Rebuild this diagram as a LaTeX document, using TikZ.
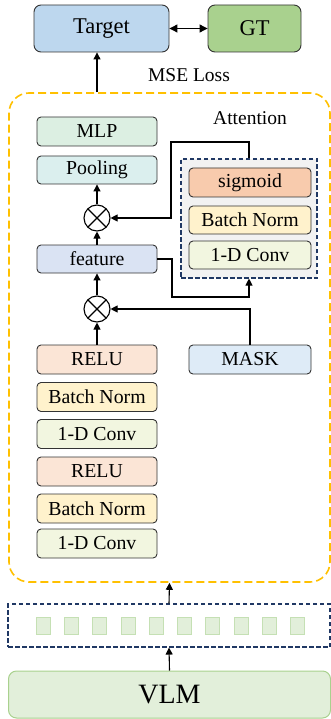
\documentclass[tikz,border=0pt]{standalone}
\usepackage{fontspec}
\setmainfont{Liberation Serif}
\usetikzlibrary{arrows.meta}
\definecolor{tgt}{HTML}{BDD7EE}
\definecolor{gtc}{HTML}{A9D18E}
\definecolor{mlpc}{HTML}{DCEFE2}
\definecolor{poolc}{HTML}{DBEFEE}
\definecolor{featc}{HTML}{DAE3F3}
\definecolor{sigc}{HTML}{F8CBAD}
\definecolor{bnc}{HTML}{FFF2CC}
\definecolor{convc}{HTML}{F2F6E0}
\definecolor{reluc}{HTML}{FBE5D6}
\definecolor{maskc}{HTML}{DEEBF7}
\definecolor{navy}{HTML}{203864}
\definecolor{orng}{HTML}{FFC000}
\definecolor{vlmc}{HTML}{E2EFDA}
\definecolor{vlmd}{HTML}{A9D18E}
\definecolor{tokd}{HTML}{C5E0B4}
\begin{document}
\begin{tikzpicture}[x=1pt,y=-1pt,
  blk/.style={draw=black!80, line width=0.9pt, rounded corners=4pt, inner sep=0pt,
    minimum width=120pt, minimum height=29pt, font=\fontsize{19.8}{21}\selectfont},
  big/.style={draw=black!80, line width=0.9pt, rounded corners=7pt, inner sep=0pt,
    minimum height=47pt, font=\fontsize{22.5}{24}\selectfont},
  conn/.style={line width=1.1pt, -{Triangle[length=7pt,width=7pt]}},
  otimesnode/.style={circle, draw, line width=1.1pt, minimum size=26pt, inner sep=0pt,
    path picture={\draw[line width=1.1pt] (path picture bounding box.north west) -- (path picture bounding box.south east)
      (path picture bounding box.north east) -- (path picture bounding box.south west);}},
  tok/.style={draw=tokd, fill=vlmc, line width=0.8pt, minimum width=14pt, minimum height=17pt, inner sep=0pt},
  lbl/.style={font=\fontsize{19.5}{21}\selectfont}
]
\useasboundingbox (0,0) rectangle (331,719);
% top
\node[big, fill=tgt, minimum width=135pt] (target) at (101.5,28.5) {Target};
\node[big, fill=gtc, minimum width=93pt] (gt) at (254.5,28.5) {GT};
\draw[line width=1.1pt, {Triangle[length=8pt,width=8pt]}-{Triangle[length=8pt,width=8pt]}] (target) -- (gt);
\node[lbl] (mse) at (189,75) {MSE Loss};
% outer dashed box
\node[draw=orng, dash pattern=on 8pt off 4pt, line width=1.6pt, rounded corners=20pt,
  minimum width=321pt, minimum height=489pt, inner sep=0pt] (outer) at (169.5,337.5) {};
\node[lbl] (attlbl) at (250,118) {Attention};
% left column
\node[blk, fill=mlpc] (mlp) at (97,131.5) {MLP};
\node[blk, fill=poolc, minimum height=28pt] (pool) at (97,170) {Pooling};
\node[otimesnode] (ot1) at (97,218) {};
\node[blk, fill=featc, minimum height=28pt] (feat) at (97,259) {feature};
\node[otimesnode] (ot2) at (97,309) {};
\node[blk, fill=reluc] (relu1) at (97,359.5) {RELU};
\node[blk, fill=bnc] (bn1) at (97,397) {Batch Norm};
\node[blk, fill=convc] (conv1) at (97,434) {1-D Conv};
\node[blk, fill=reluc] (relu2) at (97,471.5) {RELU};
\node[blk, fill=bnc] (bn2) at (97,508.5) {Batch Norm};
\node[blk, fill=convc] (conv2) at (97,543.5) {1-D Conv};
% attention box
\node[draw=navy, dash pattern=on 4.5pt off 2.5pt, line width=1.1pt, fill=black!5,
  minimum width=136pt, minimum height=119pt, inner sep=0pt] (attbox) at (249,218.5) {};
\node[blk, fill=sigc, minimum width=122pt] (sig) at (250,182.5) {sigmoid};
\node[blk, fill=bnc, minimum width=122pt, minimum height=28pt] (bn3) at (250,220) {Batch Norm};
\node[blk, fill=convc, minimum width=122pt, minimum height=28pt] (conv3) at (250,255) {1-D Conv};
\node[blk, fill=maskc, minimum width=122pt] (mask) at (250,359.5) {MASK};
% tokens
\node[draw=navy, dash pattern=on 4.5pt off 2.5pt, line width=1.1pt,
  minimum width=322pt, minimum height=43pt, inner sep=0pt] (tokens) at (169,625.5) {};
\foreach \k in {0,...,9} {
  \node[tok] (t\k) at (43+28.3*\k,626) {};
}
\node[draw=vlmd, fill=vlmc, line width=1pt, rounded corners=8pt, minimum width=322pt,
  minimum height=47pt, inner sep=0pt, font=\fontsize{28}{30}\selectfont] (vlm) at (169.5,694.5) {VLM};
% connectors
\coordinate (c1) at (171,142);
\coordinate (c2) at (172,297);
\draw[conn] (outer.north -| pool) -- (target.south -| pool);
\draw[conn] (ot1) -- (pool);
\draw[conn] (feat) -- (ot1);
\draw[conn] (ot2) -- (feat);
\draw[conn] (relu1) -- (ot2);
\draw[conn] (attbox.north) |- (c1) |- (ot1.east);
\draw[conn] (feat.east) -| (c2) -| (attbox.south);
\draw[conn] (mask.north) |- (ot2.east);
\draw[conn] (tokens.north) -- (outer.south);
\draw[conn] (vlm.north) -- (tokens.south);
\end{tikzpicture}
\end{document}
